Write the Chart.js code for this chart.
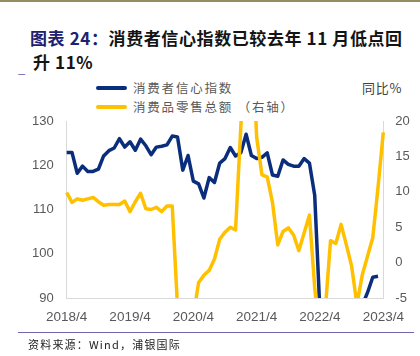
<!DOCTYPE html>
<html>
<head>
<meta charset="utf-8">
<script src="https://cdn.jsdelivr.net/npm/chart.js@4/dist/chart.umd.min.js"></script>
<style>
  html, body { margin: 0; padding: 0; background: #fff; }
  body { width: 420px; height: 356px; position: relative; overflow: hidden;
         font-family: "Noto Sans CJK SC", "Liberation Sans", sans-serif; }
  #topline { position: absolute; left: 0; top: 0; width: 420px; height: 2px; background: #948f62; }
  .title { position: absolute; font-size: 17px; font-weight: bold; color: #141414; white-space: nowrap; line-height: 24px; letter-spacing: 0.6px; }
  .title .lab { color: #22206e; }
  #t1 { left: 30px; top: 26px; }
  #t2 { left: 33px; top: 50px; }
  #us { position: absolute; left: 18px; top: 61px; font-size: 13px; color: #6a5fb0; line-height: 14px; }
  .lgline { position: absolute; left: 96px; width: 31px; height: 4px; border-radius: 2px; }
  .lgtext { position: absolute; left: 133px; font-size: 12.5px; color: #595959; letter-spacing: 1.8px; line-height: 16px; white-space: nowrap; }
  #unit { position: absolute; left: 362px; top: 80px; font-size: 13px; color: #404040; line-height: 16px; letter-spacing: 0.8px; }
  #rule { position: absolute; left: 18px; top: 332px; width: 396px; height: 0; border-top: 1.5px solid #7467ad; }
  #src { position: absolute; left: 28px; top: 336px; font-size: 11px; color: #222; line-height: 16px; white-space: nowrap; letter-spacing: 1.2px; }
  canvas { position: absolute; left: 0; top: 0; }
</style>
</head>
<body>
<div id="topline"></div>
<div class="title" id="t1"><span class="lab">图表 24：</span>消费者信心指数已较去年 11 月低点回</div>
<div id="us">_</div>
<div class="title" id="t2">升 11%</div>

<div class="lgline" style="top:86px;background:#0b2e7c;"></div>
<div class="lgtext" style="top:80px;">消费者信心指数</div>
<div class="lgline" style="top:105px;background:#ffc000;"></div>
<div class="lgtext" style="top:99px;">消费品零售总额 （右轴）</div>
<div id="unit">同比%</div>

<canvas id="c" width="420" height="356"></canvas>

<div id="rule"></div>
<div id="src">资料来源：Wind，浦银国际</div>

<script>
// ---- data ----
const months = [
  '2018/4','2018/5','2018/6','2018/7','2018/8','2018/9','2018/10','2018/11','2018/12',
  '2019/1','2019/2','2019/3','2019/4','2019/5','2019/6','2019/7','2019/8','2019/9','2019/10','2019/11','2019/12',
  '2020/1','2020/2','2020/3','2020/4','2020/5','2020/6','2020/7','2020/8','2020/9','2020/10','2020/11','2020/12',
  '2021/1','2021/2','2021/3','2021/4','2021/5','2021/6','2021/7','2021/8','2021/9','2021/10','2021/11','2021/12',
  '2022/1','2022/2','2022/3','2022/4','2022/5','2022/6','2022/7','2022/8','2022/9','2022/10','2022/11','2022/12',
  '2023/1','2023/2','2023/3','2023/4'
];
const tickLabels = ['2018/4','2019/4','2020/4','2021/4','2022/4','2023/4'];

// 消费者信心指数 (left axis)
const confidence = [
  122.9,122.9,118.2,119.8,118.6,118.6,119.1,122.1,123.3,
  123.9,126.0,124.1,125.3,123.4,125.9,124.4,122.4,124.1,124.3,124.6,126.6,
  126.4,118.9,122.2,116.4,115.8,112.6,117.2,116.1,120.5,121.5,124.0,122.1,
  122.8,127.0,122.2,121.5,121.8,122.8,117.8,117.5,121.2,120.2,119.8,119.8,
  121.5,120.5,113.2,86.7,86.8,88.9,87.9,87.0,87.2,86.8,85.5,88.3,
  91.2,94.7,94.9,null
];

// 消费品零售总额 同比% (right axis); January not published separately
const retail = [
  9.9,8.5,9.0,8.8,9.0,9.2,8.6,8.1,8.2,
  null,8.2,8.7,7.2,8.6,9.8,7.6,7.5,7.8,7.2,8.0,8.0,
  null,-20.5,-15.8,-7.5,-2.8,-1.8,-1.1,0.5,3.3,4.3,5.0,4.6,
  null,33.8,34.2,17.7,12.4,12.1,8.5,2.5,4.4,4.9,3.9,1.7,
  null,6.7,-3.5,-11.1,-6.7,3.1,2.7,5.4,2.5,-0.5,-5.9,-1.8,
  null,3.5,10.6,18.4
];

const leftTicks = { min: 90, max: 130, step: 10 };
const rightTicks = { min: -5, max: 20, step: 5 };

// ---- chart ----
const tickFont = { family: '"Liberation Sans", Arial, sans-serif', size: 13 };
const tickColor = '#595959';
const axisColor = '#d9d9d9';

new Chart(document.getElementById('c'), {
  type: 'line',
  data: {
    labels: months,
    datasets: [
      {
        label: '消费者信心指数',
        data: confidence,
        yAxisID: 'y',
        borderColor: '#0b2e7c',
        backgroundColor: '#0b2e7c',
        borderWidth: 3.5,
        pointRadius: 0,
        tension: 0,
        spanGaps: true,
        borderJoinStyle: 'round',
        order: 1
      },
      {
        label: '消费品零售总额（右轴）',
        data: retail,
        yAxisID: 'y1',
        borderColor: '#ffc000',
        backgroundColor: '#ffc000',
        borderWidth: 3.5,
        pointRadius: 0,
        tension: 0,
        spanGaps: true,
        borderJoinStyle: 'round',
        order: 0
      }
    ]
  },
  options: {
    responsive: false,
    animation: false,
    devicePixelRatio: 1,
    layout: { padding: { top: 121, left: 0, right: 0, bottom: 0 } },
    plugins: { legend: { display: false }, title: { display: false }, tooltip: { enabled: false } },
    scales: {
      x: {
        type: 'category',
        offset: false,
        grid: { display: false, drawTicks: false },
        border: { display: true, color: axisColor, width: 1 },
        ticks: {
          autoSkip: false, maxRotation: 0, minRotation: 0,
          color: tickColor,
          font: { family: tickFont.family, size: 13.5 },
          padding: 11,
          callback: function (v, i) {
            const l = months[i];
            return tickLabels.includes(l) ? l : null;
          }
        },
        afterFit: function (s) { s.height = 58; }
      },
      y: {
        position: 'left',
        min: leftTicks.min, max: leftTicks.max,
        grid: { display: false, drawTicks: false },
        border: { display: true, color: axisColor, width: 1 },
        ticks: { stepSize: leftTicks.step, color: tickColor, font: tickFont, padding: 13 },
        afterFit: function (s) { s.width = 66.7; }
      },
      y1: {
        position: 'right',
        min: rightTicks.min, max: rightTicks.max,
        grid: { display: false, drawTicks: false },
        border: { display: true, color: axisColor, width: 1 },
        ticks: { stepSize: rightTicks.step, color: tickColor, font: tickFont, padding: 12 },
        afterFit: function (s) { s.width = 36.7; }
      }
    }
  }
});
</script>
</body>
</html>
